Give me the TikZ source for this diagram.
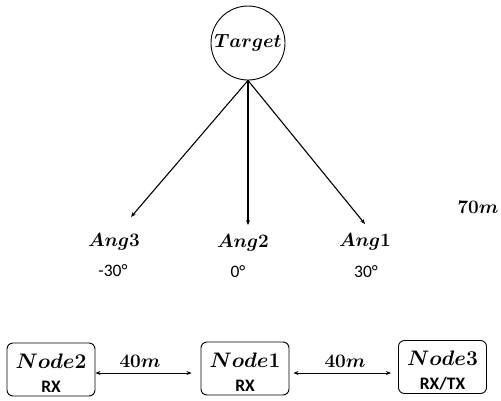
\RequirePackage{fix-cm}
\documentclass[tikz,border=0pt]{standalone}
\usepackage{amsmath,bm}
\usepackage[no-math]{fontspec}
\setmainfont{Carlito}
\usetikzlibrary{arrows.meta}
\begin{document}
\begin{tikzpicture}[x=1pt,y=-1pt, line width=0.9pt,
  mathlbl/.style={font=\fontsize{19}{22}\selectfont},
  txt/.style={font=\fontsize{17.5}{20}\selectfont},
  box/.style={draw, rounded corners=6pt, minimum width=88pt, minimum height=53pt, inner sep=0pt, align=center, font=\fontsize{21}{24}\selectfont},
  arr/.style={line width=1.1pt, -{Stealth[length=5pt,width=4pt]}},
  darr/.style={line width=1pt, {Stealth[length=5pt,width=4pt]}-{Stealth[length=5pt,width=4pt]}}]
\useasboundingbox (0,0) rectangle (501,400);
% target
\node[draw, circle, minimum size=74pt, inner sep=0pt, mathlbl] (target) at (248,43) {$\bm{Target}$};
\coordinate (t3) at (131,217);
\coordinate (t2) at (248,225);
\coordinate (t1) at (365,224);
\draw[arr] (target.south) -- (t3);
\draw[arr] (target.south) -- (t2);
\draw[arr] (target.south) -- (t1);
% angle labels
\node[mathlbl] (ang3) at (114,242) {$\bm{Ang3}$};
\node[mathlbl] (ang2) at (243,243) {$\bm{Ang2}$};
\node[mathlbl] (ang1) at (365,242) {$\bm{Ang1}$};
\node[txt] (d3) at (113,271) {-30°};
\node[txt] (d2) at (238,272) {0°};
\node[txt] (d1) at (366,272) {30°};
\node[mathlbl] (dist) at (478,207) {$\bm{70m}$};
% nodes
\node[box] (n2) at (51,369.5) {\rule{0pt}{21pt}$\bm{Node2}$\\\textbf{\fontsize{17.5}{24}\selectfont RX}};
\node[box] (n1) at (245,368.5) {\rule{0pt}{21pt}$\bm{Node1}$\\\textbf{\fontsize{17.5}{24}\selectfont RX}};
\node[box] (n3) at (442.5,367) {\rule{0pt}{21pt}$\bm{Node3}$\\\textbf{\fontsize{17.5}{24}\selectfont RX/TX}};
\coordinate (ay) at (0,373);
\draw[darr, shorten >=9pt] (n2.east |- ay) -- (n1.west |- ay);
\draw[darr, shorten <=4pt, shorten >=7pt] (n1.east |- ay) -- (n3.west |- ay);
\node[mathlbl] (l1) at (140,361) {$\bm{40m}$};
\node[mathlbl] (l2) at (345,361) {$\bm{40m}$};
\end{tikzpicture}
\end{document}
